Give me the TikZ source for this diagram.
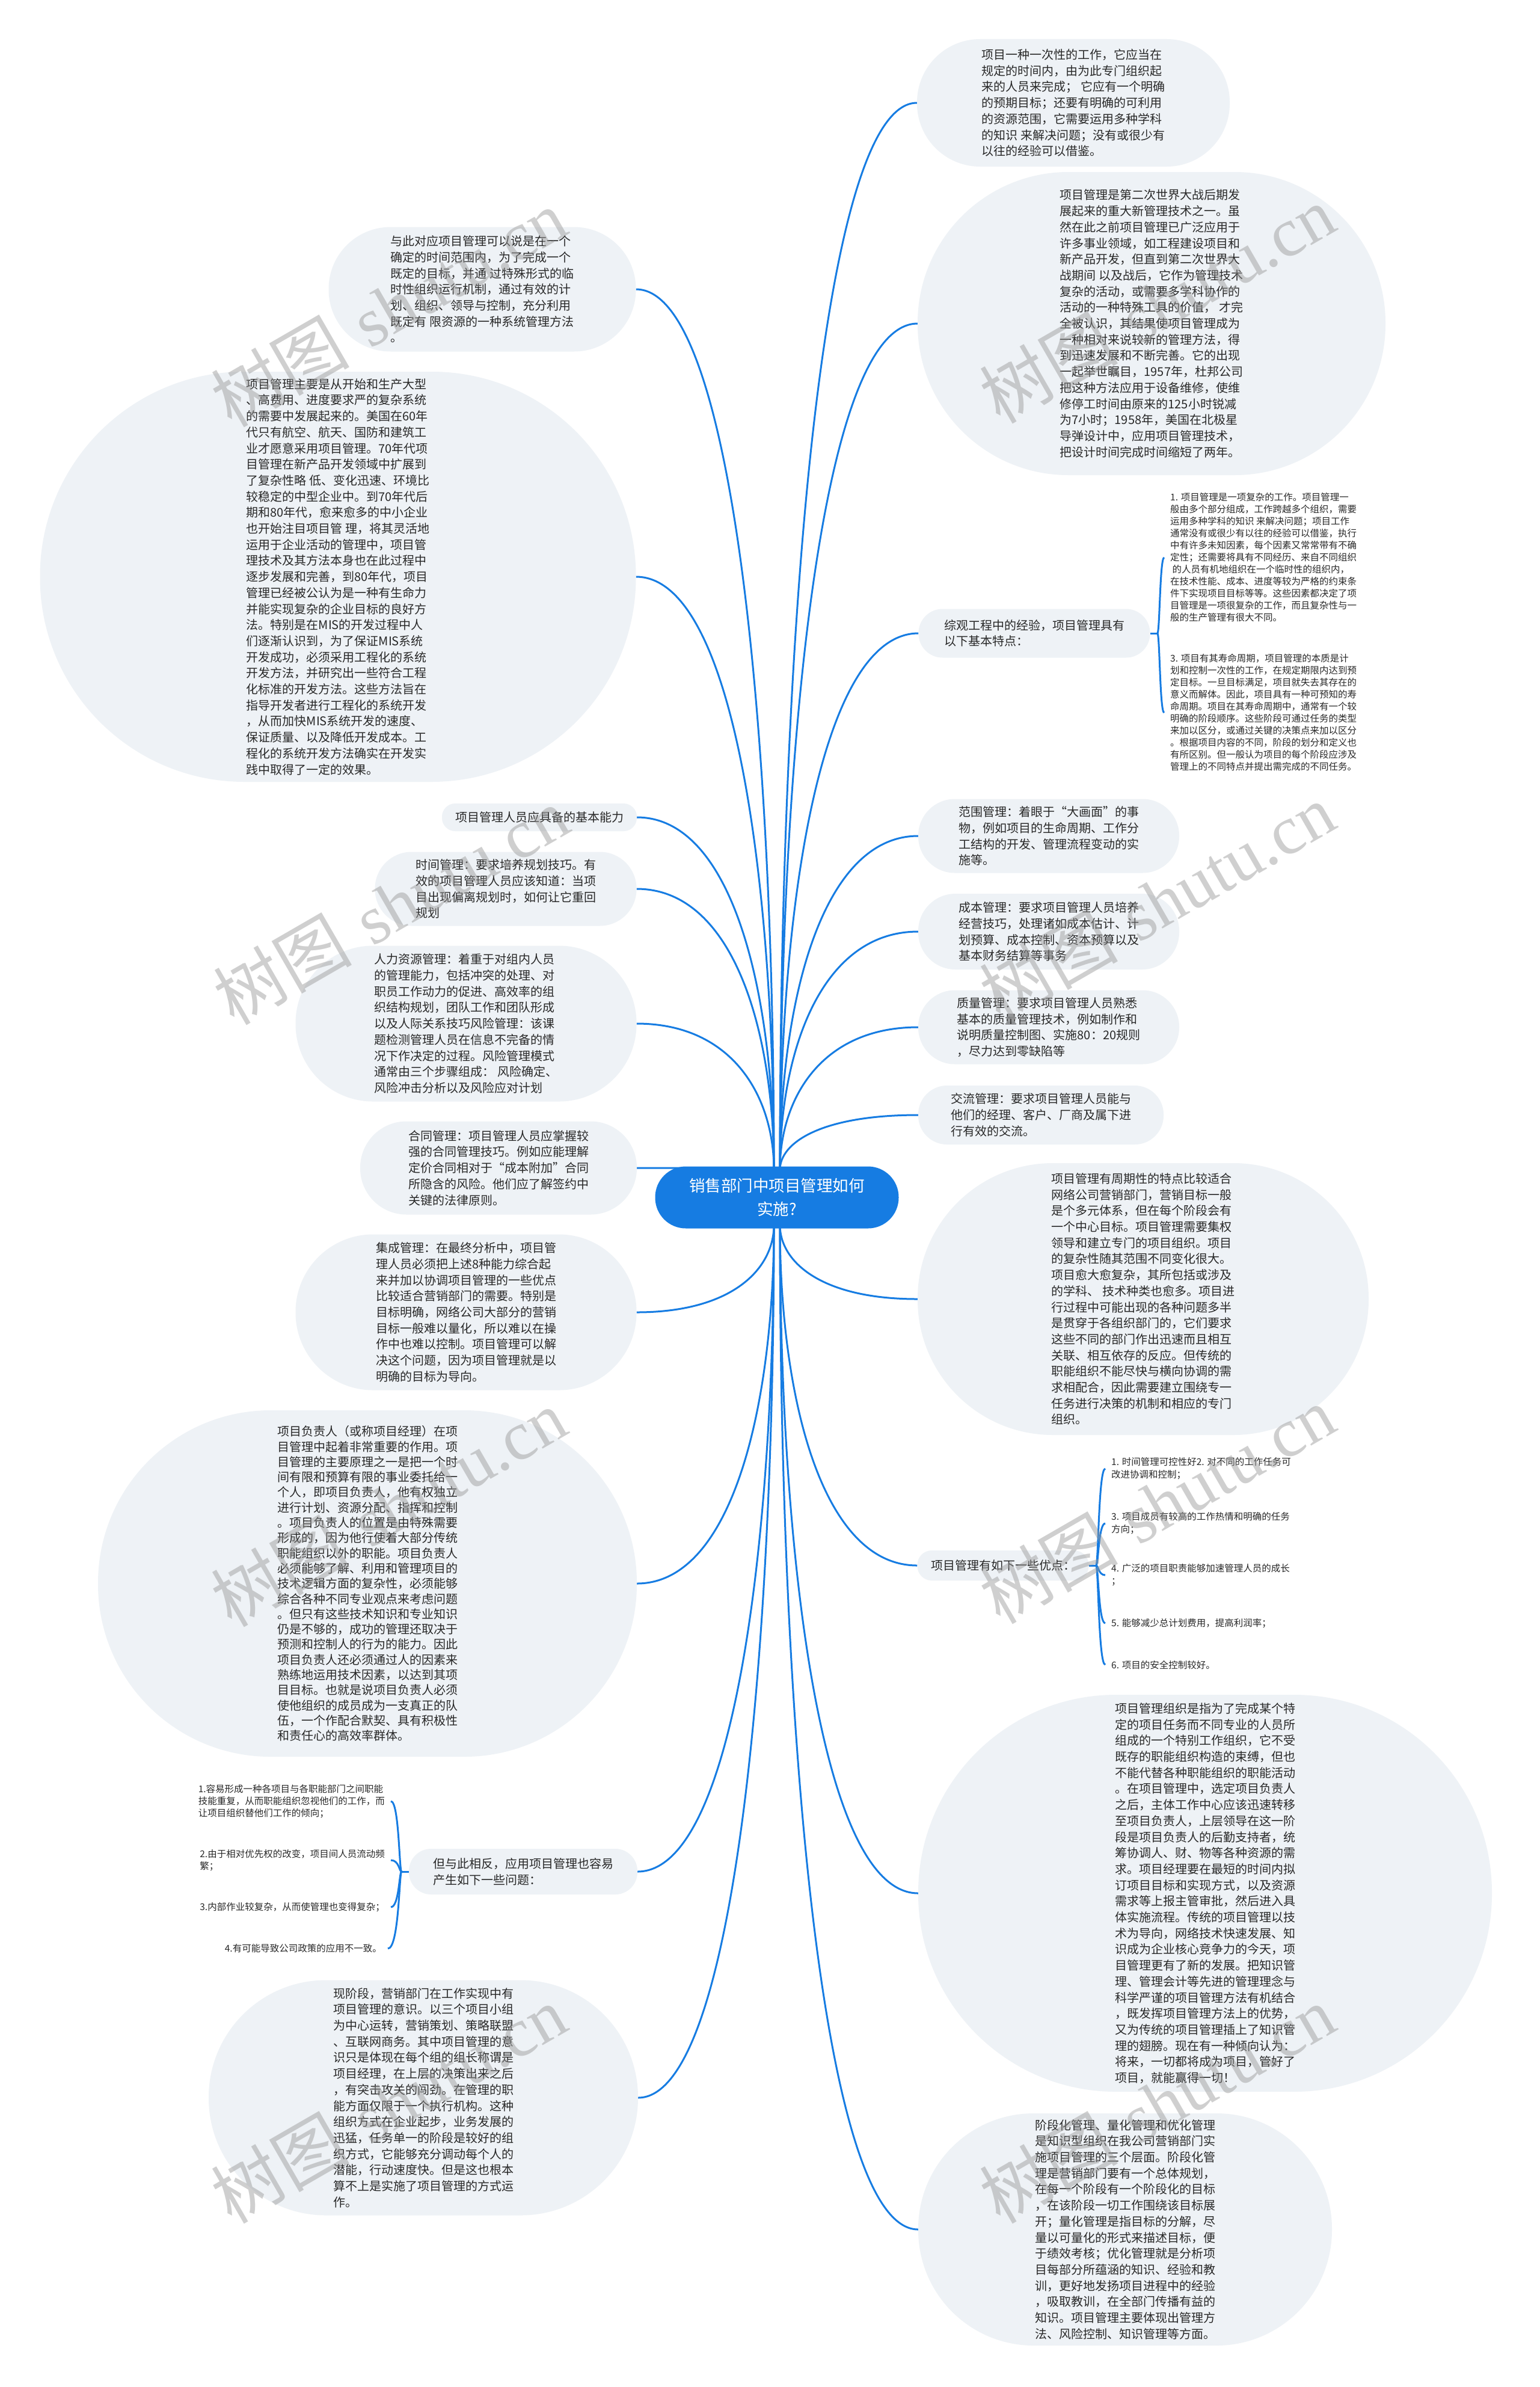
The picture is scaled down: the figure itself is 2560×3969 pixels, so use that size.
\documentclass[tikz,border=0pt]{standalone}
\usepackage{fontspec}
\newfontfamily\cjk{Noto Sans CJK SC}
\newfontfamily\wmserif{Liberation Serif}
\usetikzlibrary{calc}
\pgfdeclarelayer{bg}
\pgfdeclarelayer{fg}
\pgfsetlayers{bg,main,fg}
\definecolor{lineblue}{RGB}{22,124,226}
\definecolor{bubfill}{RGB}{238,242,246}
\definecolor{txtcol}{RGB}{40,40,40}
\definecolor{wmgray}{RGB}{150,150,150}
\newcommand\mmconn[2]{\draw[conn] (#1) .. controls ($(#1)!0.5!(#1 |- #2)$) and ($(#1 |- #2)!0.3!(#2)$) .. (#2);}
\newcommand\mmbr[3]{\draw[conn] (#1) .. controls ($(#1)+(#2,0)$) and ($(#1 |- #3)+(#2,0)$) .. (#3);}
\begin{document}
\begin{tikzpicture}[x=1pt,y=-1pt,
  conn/.style={draw=lineblue, line width=3pt},
  bub/.style={fill=bubfill, inner sep=0pt, align=left, text=txtcol, font={\cjk\fontsize{20pt}{26.7pt}\selectfont}},
  bsz/.style n args={3}{minimum width=#1pt, minimum height=#2pt, rounded corners=#3pt},
  leaf/.style={inner xsep=10pt, inner ysep=0pt, align=left, text=txtcol, font={\cjk\fontsize{15.5pt}{20pt}\selectfont}},
  centre/.style={fill=lineblue, text=white, align=center, inner sep=0pt, font={\cjk\fontsize{26.5pt}{39pt}\selectfont}, minimum width=405pt, minimum height=103pt, rounded corners=51pt},
  wm/.style={text=wmgray, text opacity=0.45, rotate=30, font={\fontsize{115pt}{115pt}\selectfont}}
]
\useasboundingbox (0,0) rectangle (2560,3969);

% centre
\node[centre] (c) at (1292,1991) {销售部门中项目管理如何\\实施?};

% ---------------- right side ----------------
\node[bub, bsz={520}{212}{105}] (r1) at (1785,171) {项目一种一次性的工作，它应当在\\%
规定的时间内，由为此专门组织起\\%
来的人员来完成； 它应有一个明确\\%
的预期目标；还要有明确的可利用\\%
的资源范围，它需要运用多种学科\\%
的知识 来解决问题；没有或很少有\\%
以往的经验可以借鉴。};

\node[bub, bsz={778}{504}{251}] (r2) at (1915,538) {项目管理是第二次世界大战后期发\\%
展起来的重大新管理技术之一。虽\\%
然在此之前项目管理已广泛应用于\\%
许多事业领域，如工程建设项目和\\%
新产品开发，但直到第二次世界大\\%
战期间 以及战后，它作为管理技术\\%
复杂的活动，或需要多学科协作的\\%
活动的一种特殊工具的价值， 才完\\%
全被认识，其结果使项目管理成为\\%
一种相对来说较新的管理方法，得\\%
到迅速发展和不断完善。它的出现\\%
一起举世瞩目，1957年，杜邦公司\\%
把这种方法应用于设备维修，使维\\%
修停工时间由原来的125小时锐减\\%
为7小时；1958年，美国在北极星\\%
导弹设计中，应用项目管理技术，\\%
把设计时间完成时间缩短了两年。};

\node[bub, bsz={385}{81}{40}] (r3) at (1720,1053) {综观工程中的经验，项目管理具有\\以下基本特点：};

\node[leaf, anchor=west] (r3a) at (1936,927) {1. 项目管理是一项复杂的工作。项目管理一\\%
般由多个部分组成，工作跨越多个组织，需要\\%
运用多种学科的知识 来解决问题；项目工作\\%
通常没有或很少有以往的经验可以借鉴，执行\\%
中有许多未知因素，每个因素又常常带有不确\\%
定性；还需要将具有不同经历、来自不同组织\\%
\ 的人员有机地组织在一个临时性的组织内，\\%
在技术性能、成本、进度等较为严格的约束条\\%
件下实现项目目标等等。这些因素都决定了项\\%
目管理是一项很复杂的工作，而且复杂性与一\\%
般的生产管理有很大不同。};

\node[leaf, anchor=west] (r3b) at (1936,1185) {3. 项目有其寿命周期，项目管理的本质是计\\%
划和控制一次性的工作，在规定期限内达到预\\%
定目标。一旦目标满足，项目就失去其存在的\\%
意义而解体。因此，项目具有一种可预知的寿\\%
命周期。项目在其寿命周期中，通常有一个较\\%
明确的阶段顺序。这些阶段可通过任务的类型\\%
来加以区分，或通过关键的决策点来加以区分\\%
。根据项目内容的不同，阶段的划分和定义也\\%
有所区别。但一般认为项目的每个阶段应涉及\\%
管理上的不同特点并提出需完成的不同任务。};

\node[bub, bsz={434}{123}{61}] (r4) at (1744,1390) {范围管理：着眼于“大画面”的事\\%
物，例如项目的生命周期、工作分\\%
工结构的开发、管理流程变动的实\\%
施等。};

\node[bub, bsz={434}{126}{62}] (r5) at (1744,1549) {成本管理：要求项目管理人员培养\\%
经营技巧，处理诸如成本估计、计\\%
划预算、成本控制、资本预算以及\\%
基本财务结算等事务};

\node[bub, bsz={434}{123}{61}] (r6) at (1744,1708) {质量管理：要求项目管理人员熟悉\\%
基本的质量管理技术，例如制作和\\%
说明质量控制图、实施80：20规则\\%
，尽力达到零缺陷等};

\node[bub, bsz={408}{98}{48}] (r7) at (1731,1854) {交流管理：要求项目管理人员能与\\%
他们的经理、客户、厂商及属下进\\%
行有效的交流。};

\node[bub, bsz={750}{452}{225}] (r8) at (1901,2160) {项目管理有周期性的特点比较适合\\%
网络公司营销部门，营销目标一般\\%
是个多元体系，但在每个阶段会有\\%
一个中心目标。项目管理需要集权\\%
领导和建立专门的项目组织。项目\\%
的复杂性随其范围不同变化很大。\\%
项目愈大愈复杂，其所包括或涉及\\%
的学科、 技术种类也愈多。项目进\\%
行过程中可能出现的各种问题多半\\%
是贯穿于各组织部门的，它们要求\\%
这些不同的部门作出迅速而且相互\\%
关联、相互依存的反应。但传统的\\%
职能组织不能尽快与横向协调的需\\%
求相配合，因此需要建立围绕专一\\%
任务进行决策的机制和相应的专门\\%
组织。};

\node[bub, bsz={285}{50}{24}] (r9) at (1668,2603) {项目管理有如下一些优点：};

\begin{scope}[leaf/.append style={font={\cjk\fontsize{15.5pt}{21pt}\selectfont}}]
\node[leaf, anchor=west] (r9a) at (1838,2442) {1. 时间管理可控性好2. 对不同的工作任务可\\改进协调和控制；};
\node[leaf, anchor=west] (r9b) at (1838,2533) {3. 项目成员有较高的工作热情和明确的任务\\方向；};
\node[leaf, anchor=west] (r9c) at (1838,2619) {4. 广泛的项目职责能够加速管理人员的成长\\；};
\node[leaf, anchor=west] (r9d) at (1838,2699) {5. 能够减少总计划费用，提高利润率；};
\node[leaf, anchor=west] (r9e) at (1838,2768) {6. 项目的安全控制较好。};
\end{scope}

\node[bub, bsz={954}{660}{329}] (r10) at (2004,3148) {项目管理组织是指为了完成某个特\\%
定的项目任务而不同专业的人员所\\%
组成的一个特别工作组织，它不受\\%
既存的职能组织构造的束缚，但也\\%
不能代替各种职能组织的职能活动\\%
。在项目管理中，选定项目负责人\\%
之后，主体工作中心应该迅速转移\\%
至项目负责人，上层领导在这一阶\\%
段是项目负责人的后勤支持者，统\\%
筹协调人、财、物等各种资源的需\\%
求。项目经理要在最短的时间内拟\\%
订项目目标和实现方式，以及资源\\%
需求等上报主管审批，然后进入具\\%
体实施流程。传统的项目管理以技\\%
术为导向，网络技术快速发展、知\\%
识成为企业核心竞争力的今天，项\\%
目管理更有了新的发展。把知识管\\%
理、管理会计等先进的管理理念与\\%
科学严谨的项目管理方法有机结合\\%
，既发挥项目管理方法上的优势，\\%
又为传统的项目管理插上了知识管\\%
理的翅膀。现在有一种倾向认为：\\%
将来，一切都将成为项目，管好了\\%
项目，就能赢得一切！};

\node[bub, bsz={688}{386}{192}] (r11) at (1871,3707) {阶段化管理、量化管理和优化管理\\%
是知识型组织在我公司营销部门实\\%
施项目管理的三个层面。阶段化管\\%
理是营销部门要有一个总体规划，\\%
在每一个阶段有一个阶段化的目标\\%
，在该阶段一切工作围绕该目标展\\%
开；量化管理是指目标的分解，尽\\%
量以可量化的形式来描述目标，便\\%
于绩效考核；优化管理就是分析项\\%
目每部分所蕴涵的知识、经验和教\\%
训，更好地发扬项目进程中的经验\\%
，吸取教训，在全部门传播有益的\\%
知识。项目管理主要体现出管理方\\%
法、风险控制、知识管理等方面。};

% ---------------- left side ----------------
\node[bub, bsz={511}{207}{103}] (l1) at (802,481) {与此对应项目管理可以说是在一个\\%
确定的时间范围内，为了完成一个\\%
既定的目标，并通 过特殊形式的临\\%
时性组织运行机制，通过有效的计\\%
划、组织、领导与控制，充分利用\\%
既定有 限资源的一种系统管理方法\\%
。};

\node[bub, bsz={991}{682}{340}] (l2) at (562,959) {项目管理主要是从开始和生产大型\\%
、高费用、进度要求严的复杂系统\\%
的需要中发展起来的。美国在60年\\%
代只有航空、航天、国防和建筑工\\%
业才愿意采用项目管理。70年代项\\%
目管理在新产品开发领域中扩展到\\%
了复杂性略 低、变化迅速、环境比\\%
较稳定的中型企业中。到70年代后\\%
期和80年代，愈来愈多的中小企业\\%
也开始注目项目管 理，将其灵活地\\%
运用于企业活动的管理中，项目管\\%
理技术及其方法本身也在此过程中\\%
逐步发展和完善，到80年代，项目\\%
管理已经被公认为是一种有生命力\\%
并能实现复杂的企业目标的良好方\\%
法。特别是在MIS的开发过程中人\\%
们逐渐认识到，为了保证MIS系统\\%
开发成功，必须采用工程化的系统\\%
开发方法，并研究出一些符合工程\\%
化标准的开发方法。这些方法旨在\\%
指导开发者进行工程化的系统开发\\%
，从而加快MIS系统开发的速度、\\%
保证质量、以及降低开发成本。工\\%
程化的系统开发方法确实在开发实\\%
践中取得了一定的效果。};

\node[bub, bsz={324}{46}{22}] (l3) at (897,1359) {项目管理人员应具备的基本能力};

\node[bub, bsz={435}{123}{61}] (l4) at (841,1478) {时间管理：要求培养规划技巧。有\\%
效的项目管理人员应该知道：当项\\%
目出现偏离规划时，如何让它重回\\%
规划};

\node[bub, bsz={567}{259}{129}] (l5) at (775,1702) {人力资源管理：着重于对组内人员\\%
的管理能力，包括冲突的处理、对\\%
职员工作动力的促进、高效率的组\\%
织结构规划，团队工作和团队形成\\%
以及人际关系技巧风险管理：该课\\%
题检测管理人员在信息不完备的情\\%
况下作决定的过程。风险管理模式\\%
通常由三个步骤组成： 风险确定、\\%
风险冲击分析以及风险应对计划};

\node[bub, bsz={460}{155}{77}] (l6) at (829,1942) {合同管理：项目管理人员应掌握较\\%
强的合同管理技巧。例如应能理解\\%
定价合同相对于“成本附加”合同\\%
所隐含的风险。他们应了解签约中\\%
关键的法律原则。};

\node[bub, bsz={567}{259}{129}] (l7) at (775,2182) {集成管理：在最终分析中，项目管\\%
理人员必须把上述8种能力综合起\\%
来并加以协调项目管理的一些优点\\%
比较适合营销部门的需要。特别是\\%
目标明确，网络公司大部分的营销\\%
目标一般难以量化，所以难以在操\\%
作中也难以控制。项目管理可以解\\%
决这个问题，因为项目管理就是以\\%
明确的目标为导向。};

\node[bub, bsz={896}{576}{287}, font={\cjk\fontsize{20pt}{25.3pt}\selectfont}] (l8) at (611,2633) {项目负责人（或称项目经理）在项\\%
目管理中起着非常重要的作用。项\\%
目管理的主要原理之一是把一个时\\%
间有限和预算有限的事业委托给一\\%
个人，即项目负责人，他有权独立\\%
进行计划、资源分配、指挥和控制\\%
。项目负责人的位置是由特殊需要\\%
形成的，因为他行使着大部分传统\\%
职能组织以外的职能。项目负责人\\%
必须能够了解、利用和管理项目的\\%
技术逻辑方面的复杂性，必须能够\\%
综合各种不同专业观点来考虑问题\\%
。但只有这些技术知识和专业知识\\%
仍是不够的，成功的管理还取决于\\%
预测和控制人的行为的能力。因此\\%
项目负责人还必须通过人的因素来\\%
熟练地运用技术因素，以达到其项\\%
目目标。也就是说项目负责人必须\\%
使他组织的成员成为一支真正的队\\%
伍，一个作配合默契、具有积极性\\%
和责任心的高效率群体。};

\node[bub, bsz={380}{76}{37}] (l9) at (870,3112) {但与此相反，应用项目管理也容易\\产生如下一些问题：};

\node[leaf, anchor=east] (l9a) at (650,2995) {1.容易形成一种各项目与各职能部门之间职能\\%
技能重复，从而职能组织忽视他们的工作，而\\%
让项目组织替他们工作的倾向；};
\node[leaf, anchor=east] (l9b) at (650,3093) {2.由于相对优先权的改变，项目间人员流动频\\繁；};
\node[leaf, anchor=east] (l9c) at (650,3171) {3.内部作业较复杂，从而使管理也变得复杂；};
\node[leaf, anchor=east] (l9d) at (645,3240) {4.有可能导致公司政策的应用不一致。};

\node[bub, bsz={714}{391}{195}] (l10) at (704,3488) {现阶段，营销部门在工作实现中有\\%
项目管理的意识。以三个项目小组\\%
为中心运转，营销策划、策略联盟\\%
、互联网商务。其中项目管理的意\\%
识只是体现在每个组的组长称谓是\\%
项目经理，在上层的决策出来之后\\%
，有突击攻关的闯劲。在管理的职\\%
能方面仅限于一个执行机构。这种\\%
组织方式在企业起步，业务发展的\\%
迅猛，任务单一的阶段是较好的组\\%
织方式，它能够充分调动每个人的\\%
潜能，行动速度快。但是这也根本\\%
算不上是实施了项目管理的方式运\\%
作。};

% ---------------- connectors ----------------
\coordinate (cTL) at ($(c.north)+(-5,6)$);
\coordinate (cTR) at ($(c.north)+(5,6)$);
\coordinate (cBL) at ($(c.south)+(-5,-6)$);
\coordinate (cBR) at ($(c.south)+(5,-6)$);
\coordinate (j3) at ($(r3.east)+(12,0)$);
\coordinate (j9) at ($(r9.east)+(12,0)$);
\coordinate (jl9) at ($(l9.west)+(-12,0)$);
\begin{pgfonlayer}{bg}
\fill[white] (0,0) rectangle (2560,3969);
\mmconn{cTL}{l1.east}
\mmconn{cTL}{l2.east}
\mmconn{cTL}{l3.east}
\mmconn{cTL}{l4.east}
\mmconn{cTL}{l5.east}
\mmconn{cTL}{l6.east}
\mmconn{cBL}{l7.east}
\mmconn{cBL}{l8.east}
\mmconn{cBL}{l9.east}
\mmconn{cBL}{l10.east}
\mmconn{cTR}{r1.west}
\mmconn{cTR}{r2.west}
\mmconn{cTR}{r3.west}
\mmconn{cTR}{r4.west}
\mmconn{cTR}{r5.west}
\mmconn{cTR}{r6.west}
\mmconn{cTR}{r7.west}
\mmconn{cBR}{r8.west}
\mmconn{cBR}{r9.west}
\mmconn{cBR}{r10.west}
\mmconn{cBR}{r11.west}
\draw[conn] (r3.east) -- (j3);
\mmbr{j3}{4}{r3a.west}
\mmbr{j3}{4}{r3b.west}
\draw[conn] (r9.east) -- (j9);
\mmbr{j9}{4}{r9a.west}
\mmbr{j9}{4}{r9b.west}
\mmbr{j9}{4}{r9c.west}
\mmbr{j9}{4}{r9d.west}
\mmbr{j9}{4}{r9e.west}
\draw[conn] (l9.west) -- (jl9);
\mmbr{jl9}{-4}{l9a.east}
\mmbr{jl9}{-4}{l9b.east}
\mmbr{jl9}{-4}{l9c.east}
\mmbr{jl9}{-4}{l9d.east}
\end{pgfonlayer}

% ---------------- watermark ----------------
\begin{pgfonlayer}{fg}
\node[wm] (wm1) at (646,512) {{\cjk 树图} {\wmserif shutu.cn}};
\node[wm] (wm2) at (1924,506) {{\cjk 树图} {\wmserif shutu.cn}};
\node[wm] (wm3) at (650,1506) {{\cjk 树图} {\wmserif shutu.cn}};
\node[wm] (wm4) at (1924,1500) {{\cjk 树图} {\wmserif shutu.cn}};
\node[wm] (wm5) at (646,2507) {{\cjk 树图} {\wmserif shutu.cn}};
\node[wm] (wm6) at (1924,2502) {{\cjk 树图} {\wmserif shutu.cn}};
\node[wm] (wm7) at (646,3499) {{\cjk 树图} {\wmserif shutu.cn}};
\node[wm] (wm8) at (1924,3499) {{\cjk 树图} {\wmserif shutu.cn}};
\end{pgfonlayer}
\end{tikzpicture}
\end{document}
